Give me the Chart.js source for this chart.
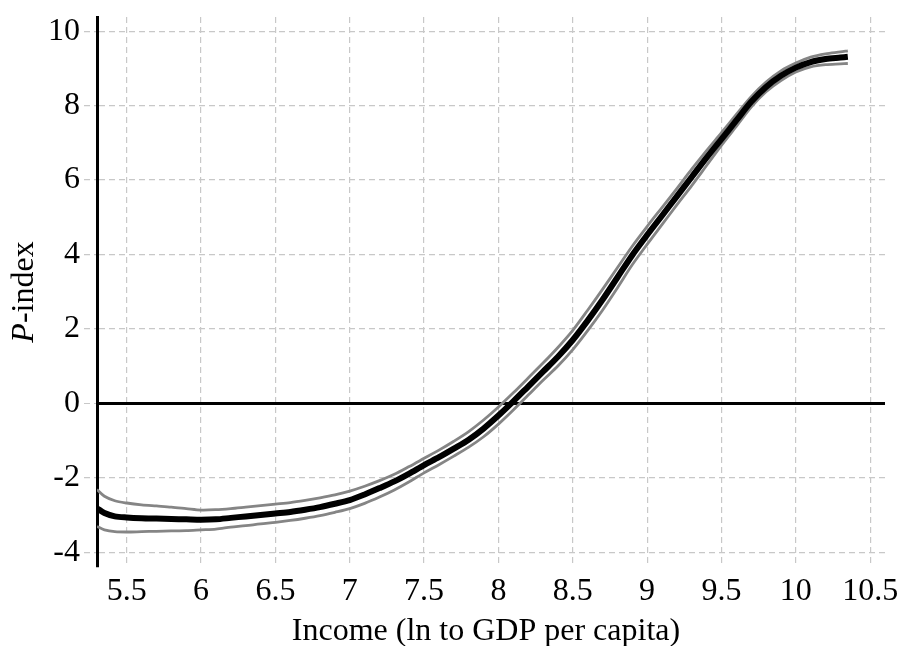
<!DOCTYPE html>
<html>
<head>
<meta charset="utf-8">
<script src="https://cdn.jsdelivr.net/npm/chart.js@4"></script>
<style>
  html, body { margin: 0; padding: 0; background: #fff; }
  #wrap { width: 898px; height: 646px; }
</style>
</head>
<body>
<div id="wrap"><canvas id="chart"></canvas></div>
<script>
// income (ln GDP per capita) grid
const income = [5.30, 5.35, 5.42, 5.5, 5.6, 5.7, 5.8, 5.9, 6.0, 6.1, 6.2, 6.3, 6.4, 6.5, 6.6, 6.7, 6.8, 6.9,
    7.0, 7.1, 7.2, 7.3, 7.4, 7.5, 7.6, 7.7, 7.8, 7.9, 8.0, 8.1, 8.2, 8.3, 8.4, 8.5, 8.6, 8.7, 8.8, 8.9,
    9.0, 9.1, 9.2, 9.3, 9.4, 9.5, 9.6, 9.7, 9.8, 9.9, 10.0, 10.1, 10.2, 10.3, 10.35];

const pIndex = [-2.82, -2.95, -3.04, -3.07, -3.09, -3.10, -3.11, -3.12, -3.13, -3.12, -3.08, -3.04, -3.00, -2.96, -2.92, -2.86, -2.79, -2.70,
    -2.60, -2.45, -2.28, -2.10, -1.89, -1.66, -1.45, -1.22, -0.98, -0.68, -0.33, 0.05, 0.45, 0.85, 1.25, 1.70, 2.22, 2.78, 3.38, 3.98,
    4.52, 5.04, 5.56, 6.08, 6.60, 7.10, 7.60, 8.10, 8.50, 8.80, 9.02, 9.17, 9.25, 9.29, 9.31];

const upperBand = [-2.32, -2.50, -2.62, -2.68, -2.73, -2.76, -2.79, -2.83, -2.87, -2.86, -2.83, -2.79, -2.75, -2.71, -2.67, -2.61, -2.54, -2.46,
    -2.36, -2.23, -2.08, -1.91, -1.70, -1.48, -1.26, -1.02, -0.76, -0.45, -0.10, 0.28, 0.68, 1.08, 1.50, 1.96, 2.50, 3.06, 3.64, 4.22,
    4.75, 5.26, 5.77, 6.29, 6.79, 7.27, 7.76, 8.24, 8.63, 8.93, 9.14, 9.30, 9.39, 9.44, 9.47];

const lowerBand = [-3.31, -3.40, -3.45, -3.46, -3.45, -3.44, -3.43, -3.42, -3.40, -3.38, -3.33, -3.29, -3.24, -3.20, -3.15, -3.09, -3.02, -2.93,
    -2.83, -2.69, -2.52, -2.33, -2.11, -1.87, -1.65, -1.42, -1.18, -0.90, -0.56, -0.18, 0.22, 0.62, 1.00, 1.44, 1.95, 2.50, 3.10, 3.72,
    4.27, 4.80, 5.33, 5.85, 6.39, 6.93, 7.44, 7.96, 8.37, 8.67, 8.90, 9.04, 9.10, 9.12, 9.13];

const xTicks = [5.5, 6, 6.5, 7, 7.5, 8, 8.5, 9, 9.5, 10, 10.5];
const yTicks = [-4, -2, 0, 2, 4, 6, 8, 10];
const xTitle = 'Income (ln to GDP per capita)';
const yTitleItalic = 'P';
const yTitleRest = '-index';

const FONT = '"Liberation Serif", "Times New Roman", serif';

function points(ys) {
    return income.map((x, i) => ({ x: x, y: ys[i] }));
}

// axis titles drawn by hand so the P can be italic
const titlePlugin = {
    id: 'titles',
    afterDraw(chart) {
        const { ctx, chartArea } = chart;
        ctx.save();
        ctx.fillStyle = '#000';
        ctx.font = '32px ' + FONT;
        ctx.textAlign = 'center';
        ctx.textBaseline = 'alphabetic';
        ctx.fillText(xTitle, (chartArea.left + chartArea.right) / 2 - 5, 640);

        ctx.translate(33, (chartArea.top + chartArea.bottom) / 2);
        ctx.rotate(-Math.PI / 2);
        ctx.font = 'italic 32px ' + FONT;
        const w1 = ctx.measureText(yTitleItalic).width;
        ctx.font = '32px ' + FONT;
        const w2 = ctx.measureText(yTitleRest).width;
        ctx.textAlign = 'left';
        let x0 = -(w1 + w2) / 2;
        ctx.font = 'italic 32px ' + FONT;
        ctx.fillText(yTitleItalic, x0, 0);
        ctx.font = '32px ' + FONT;
        ctx.fillText(yTitleRest, x0 + w1, 0);
        ctx.restore();
    }
};

const ctx = document.getElementById('chart').getContext('2d');
const chart = new Chart(ctx, {
    type: 'line',
    data: {
        datasets: [{
            label: 'P-index',
            data: points(pIndex),
            borderColor: '#000',
            borderWidth: 6,
            pointRadius: 0,
            tension: 0.3,
            order: 0
        },
        {
            label: 'upper',
            data: points(upperBand),
            borderColor: '#858585',
            borderWidth: 2.8,
            pointRadius: 0,
            tension: 0.3,
            order: 1
        },
        {
            label: 'lower',
            data: points(lowerBand),
            borderColor: '#858585',
            borderWidth: 2.8,
            pointRadius: 0,
            tension: 0.3,
            order: 1
        }]
    },
    options: {
        responsive: true,
        maintainAspectRatio: false,
        animation: false,
        layout: { padding: { top: 17, right: 13, left: 0, bottom: 0 } },
        plugins: {
            legend: { display: false },
            tooltip: { enabled: false }
        },
        scales: {
            x: {
                type: 'linear',
                min: 5.3,
                max: 10.6,
                afterBuildTicks: (scale) => { scale.ticks = xTicks.map(v => ({ value: v })); },
                afterFit: (scale) => {
                    scale.height = 79;
                    scale.paddingLeft = 0;
                    scale.paddingRight = 0;
                },
                grid: {
                    color: '#c8c8c8',
                    lineWidth: 1.2,
                    drawTicks: false
                },
                border: { display: false, dash: [6, 4] },
                ticks: {
                    color: '#000',
                    padding: 5,
                    maxRotation: 0,
                    font: { family: FONT, size: 32 },
                    callback: (v) => String(v)
                }
            },
            y: {
                type: 'linear',
                min: -4.4,
                max: 10.38,
                afterBuildTicks: (scale) => { scale.ticks = yTicks.map(v => ({ value: v })); },
                afterFit: (scale) => {
                    scale.width = 97;
                    scale.paddingTop = 0;
                    scale.paddingBottom = 0;
                },
                grid: {
                    color: (c) => (c.tick && c.tick.value === 0) ? '#000' : '#c8c8c8',
                    lineWidth: (c) => (c.tick && c.tick.value === 0) ? 3 : 1.2,
                    tickColor: '#c8c8c8',
                    tickLength: 13,
                    tickWidth: 1.2,
                    tickBorderDash: [6, 4]
                },
                border: {
                    display: true,
                    color: '#000',
                    width: 3,
                    dash: (c) => (c.tick && c.tick.value === 0) ? [] : [6, 4]
                },
                ticks: {
                    color: '#000',
                    padding: 4,
                    font: { family: FONT, size: 32 },
                    callback: (v) => String(v)
                }
            }
        }
    },
    plugins: [titlePlugin]
});
</script>
</body>
</html>
